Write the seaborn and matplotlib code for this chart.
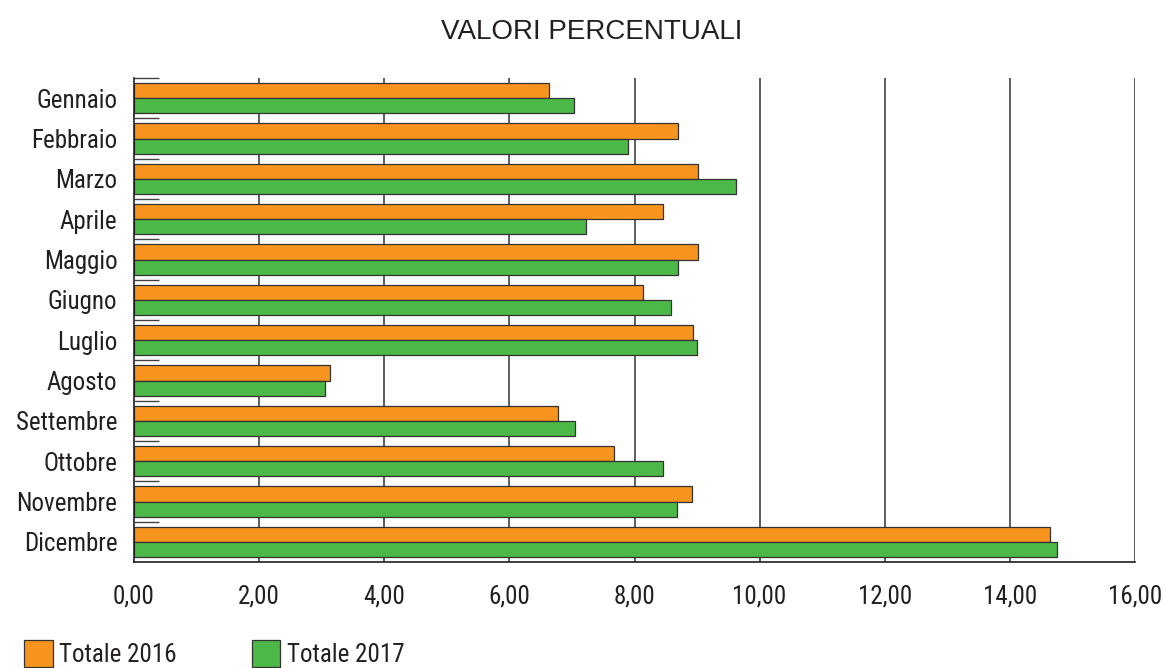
import matplotlib
matplotlib.use("Agg")
import matplotlib.pyplot as plt
from matplotlib import font_manager
from matplotlib.patches import Patch
import numpy as np
import pandas as pd
import seaborn as sns

months = ["Gennaio", "Febbraio", "Marzo", "Aprile", "Maggio", "Giugno",
          "Luglio", "Agosto", "Settembre", "Ottobre", "Novembre", "Dicembre"]
totale_2016 = [6.64, 8.69, 9.02, 8.45, 9.01, 8.13, 8.94, 3.14, 6.77, 7.67, 8.92, 14.64]
totale_2017 = [7.04, 7.90, 9.62, 7.22, 8.69, 8.59, 9.00, 3.06, 7.05, 8.46, 8.68, 14.75]
series_names = ["Totale 2016", "Totale 2017"]
x_ticks = [0, 2, 4, 6, 8, 10, 12, 14, 16]
title = "VALORI PERCENTUALI"

colors = ["#F7941E", "#4CB848"]
ink = "#231F20"

df = pd.DataFrame({
    "Mese": months * 2,
    "Valore": totale_2016 + totale_2017,
    "Serie": [series_names[0]] * len(months) + [series_names[1]] * len(months),
})

sns.set_theme(style="white")

# pick a condensed sans for the labels
fonts = font_manager.fontManager.ttflist
def has(name, stretch=None):
    return any(f.name == name and (stretch is None or f.stretch == stretch) for f in fonts)

if has("Roboto Condensed"):
    narrow_family, narrow_stretch = "Roboto Condensed", "normal"
elif has("Open Sans", "condensed"):
    narrow_family, narrow_stretch = "Open Sans", "condensed"
elif has("IBM Plex Sans Condensed"):
    narrow_family, narrow_stretch = "IBM Plex Sans Condensed", "normal"
else:
    narrow_family, narrow_stretch = "DejaVu Sans", "condensed"

plt.rcParams["font.family"] = [narrow_family, "DejaVu Sans"]
plt.rcParams["font.stretch"] = narrow_stretch

label_size = 18

W, H = 1164, 668
fig = plt.figure(figsize=(W / 100, H / 100), dpi=100)
ax = fig.add_axes([134 / W, 1 - 562 / H, (1135 - 134) / W, (562 - 78) / H])

ax.set_axisbelow(True)
for v in x_ticks[1:]:
    ax.axvline(v, color="#333333", lw=1.1, zorder=0)

sns.barplot(data=df, y="Mese", x="Valore", hue="Serie", orient="h",
            palette=colors, saturation=1, width=0.76, edgecolor="#333333",
            linewidth=0.9, ax=ax, legend=False, zorder=2)

ax.set_xlim(0, 16)
ax.set_ylim(len(months) - 0.5, -0.5)
ax.set_xticks(x_ticks)
ax.set_xticklabels([f"{v:.2f}".replace(".", ",") for v in x_ticks])
ax.set_yticks(range(len(months)))
ax.set_yticklabels(months)
ax.set_yticks(np.arange(-0.5, len(months) - 0.5, 1.0), minor=True)
ax.tick_params(axis="y", which="major", length=0, pad=12, labelsize=label_size, labelcolor=ink)
ax.tick_params(axis="y", which="minor", direction="in", length=18, width=1.0,
               color="#444444", left=True)
ax.tick_params(axis="x", length=0, pad=16, labelsize=label_size, labelcolor=ink)
ax.set_xlabel("")
ax.set_ylabel("")

for side in ["top", "right"]:
    ax.spines[side].set_visible(False)
for side in ["left", "bottom"]:
    ax.spines[side].set_color(ink)
    ax.spines[side].set_linewidth(1.2)

fig.text(592 / W, 1 - 32 / H, title, ha="center", va="center", fontsize=20,
         family=["Liberation Sans", "DejaVu Sans"], fontstretch="normal", color=ink)

handles = [Patch(facecolor=c, edgecolor="#333333", linewidth=0.9) for c in colors]
fig.legend(handles, series_names, loc="upper left",
           bbox_to_anchor=(24 / W, 1 - 640 / H), ncol=2, frameon=False,
           fontsize=label_size, handlelength=1.15, handleheight=1.3, handletextpad=0.25,
           columnspacing=3.0, borderpad=0, borderaxespad=0, labelcolor=ink)

fig.savefig("out.png", dpi=100, facecolor="white")
